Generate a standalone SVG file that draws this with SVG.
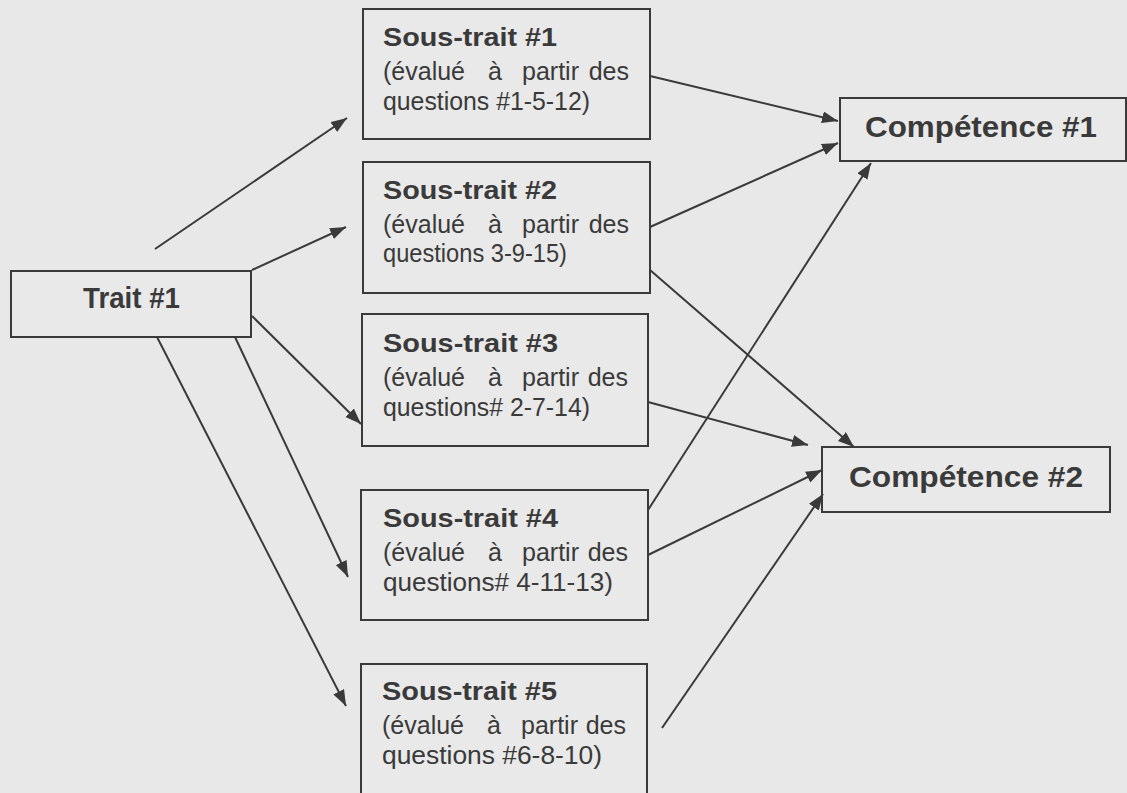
<svg xmlns="http://www.w3.org/2000/svg" width="1127" height="793" viewBox="0 0 1127 793">
<style>
.box{fill:#e9e9e9;stroke:#3a3a3a;stroke-width:2}
.title{font-family:"Liberation Sans",Arial,sans-serif;font-weight:bold;font-size:25px;fill:#3a3a3a}
.big{font-family:"Liberation Sans",Arial,sans-serif;font-weight:bold;font-size:30px;fill:#3a3a3a}
.txt{font-family:"Liberation Sans",Arial,sans-serif;font-size:25px;fill:#3a3a3a}
.conn line{stroke:#3a3a3a;stroke-width:2;marker-end:url(#ah)}
</style>
<defs>
<marker id="ah" markerUnits="userSpaceOnUse" markerWidth="18" markerHeight="14" refX="16" refY="6" orient="auto">
<path d="M0,0 L16,6 L0,12 z" fill="#3a3a3a"/>
</marker>
</defs>
<rect width="1127" height="793" fill="#e8e8e8"/>

<g id="trait1">
<rect class="box" x="11" y="271" width="240" height="66"/>
<text class="big" x="83" y="308" font-size="28" textLength="97" lengthAdjust="spacingAndGlyphs">Trait #1</text>
</g>

<g id="soustrait1">
<rect class="box" x="363" y="9" width="287" height="130"/>
<text class="title" x="383" y="46" textLength="174" lengthAdjust="spacingAndGlyphs">Sous-trait #1</text>
<text class="txt" y="80"><tspan x="383">(évalué</tspan><tspan x="488">à</tspan><tspan x="522">partir</tspan><tspan x="629" text-anchor="end">des</tspan></text>
<text class="txt" x="383" y="110" textLength="207" lengthAdjust="spacingAndGlyphs">questions #1-5-12)</text>
</g>

<g id="soustrait2">
<rect class="box" x="363" y="162" width="287" height="131"/>
<text class="title" x="383" y="199" textLength="174" lengthAdjust="spacingAndGlyphs">Sous-trait #2</text>
<text class="txt" y="233"><tspan x="383">(évalué</tspan><tspan x="488">à</tspan><tspan x="522">partir</tspan><tspan x="629" text-anchor="end">des</tspan></text>
<text class="txt" x="383" y="262" textLength="184" lengthAdjust="spacingAndGlyphs">questions 3-9-15)</text>
</g>

<g id="soustrait3">
<rect class="box" x="362" y="314" width="286" height="132"/>
<text class="title" x="383" y="352" textLength="175" lengthAdjust="spacingAndGlyphs">Sous-trait #3</text>
<text class="txt" y="386"><tspan x="383">(évalué</tspan><tspan x="488">à</tspan><tspan x="522">partir</tspan><tspan x="628" text-anchor="end">des</tspan></text>
<text class="txt" x="383" y="416" textLength="207" lengthAdjust="spacingAndGlyphs">questions# 2-7-14)</text>
</g>

<g id="soustrait4">
<rect class="box" x="361" y="490" width="287" height="130"/>
<text class="title" x="383" y="527" textLength="175" lengthAdjust="spacingAndGlyphs">Sous-trait #4</text>
<text class="txt" y="561"><tspan x="383">(évalué</tspan><tspan x="488">à</tspan><tspan x="522">partir</tspan><tspan x="628" text-anchor="end">des</tspan></text>
<text class="txt" x="383" y="591" textLength="230" lengthAdjust="spacingAndGlyphs">questions# 4-11-13)</text>
</g>

<g id="soustrait5">
<rect class="box" x="361" y="664" width="286" height="140"/>
<text class="title" x="382" y="700" textLength="175" lengthAdjust="spacingAndGlyphs">Sous-trait #5</text>
<text class="txt" y="734"><tspan x="382">(évalué</tspan><tspan x="487">à</tspan><tspan x="521">partir</tspan><tspan x="626" text-anchor="end">des</tspan></text>
<text class="txt" x="382" y="764" textLength="220" lengthAdjust="spacingAndGlyphs">questions #6-8-10)</text>
</g>

<g id="competence1">
<rect class="box" x="840" y="98" width="286" height="63"/>
<text class="big" x="865" y="137" textLength="232" lengthAdjust="spacingAndGlyphs">Compétence #1</text>
</g>

<g id="competence2">
<rect class="box" x="822" y="447" width="288" height="65"/>
<text class="big" x="849" y="487" textLength="234" lengthAdjust="spacingAndGlyphs">Compétence #2</text>
</g>

<g id="connectors" class="conn">
<line x1="155" y1="249" x2="347" y2="118"/>
<line x1="252" y1="270" x2="346" y2="227"/>
<line x1="252" y1="316" x2="361" y2="424"/>
<line x1="235" y1="337" x2="348" y2="577"/>
<line x1="157" y1="337" x2="346" y2="706"/>
<line x1="650" y1="76" x2="838" y2="121"/>
<line x1="650" y1="227" x2="838" y2="143"/>
<line x1="648" y1="510" x2="871" y2="163"/>
<line x1="650" y1="270" x2="854" y2="447"/>
<line x1="648" y1="402" x2="808" y2="445"/>
<line x1="648" y1="555" x2="822" y2="470"/>
<line x1="662" y1="728" x2="823" y2="494"/>
</g>
</svg>
